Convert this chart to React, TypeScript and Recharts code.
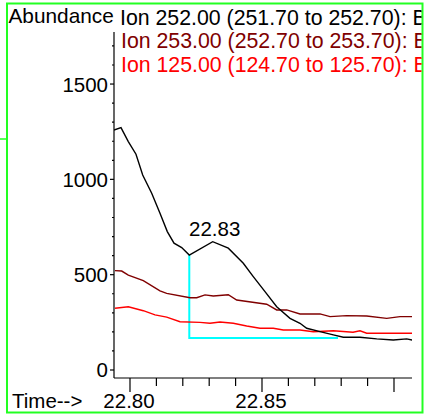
import { LineChart, Line, XAxis, YAxis } from 'recharts';

// Ion 252.00 (black)
const t252 = [
  22.79394, 22.79659, 22.79936, 22.80227, 22.80481, 22.80822, 22.81136, 22.81413, 22.81667,
  22.81958, 22.82246, 22.83133, 22.83723, 22.84292, 22.8467, 22.85114, 22.85557, 22.86061,
  22.86439, 22.86693, 22.87197, 22.87701, 22.8808, 22.88712, 22.89345, 22.89973, 22.90481,
  22.90693,
];
const v252 = [
  1259, 1271, 1198, 1132, 1023, 927, 822, 726, 665, 642, 603, 673, 639, 560, 490, 411, 332, 271,
  245, 219, 201, 184, 172, 172, 163, 157, 163, 157,
];

// Ion 253.00 (dark red)
const t253 = [
  22.79432, 22.79686, 22.79936, 22.80504, 22.81136, 22.8139, 22.82273, 22.82527, 22.82841,
  22.83155, 22.83723, 22.84042, 22.85178, 22.85557, 22.85936, 22.86439, 22.87197, 22.87576,
  22.88208, 22.88966, 22.89723, 22.90227, 22.90693,
];
const v253 = [
  521, 519, 498, 469, 415, 402, 379, 379, 394, 388, 395, 367, 345, 315, 315, 294, 294, 280, 285,
  283, 271, 280, 280,
];

// Ion 125.00 (red)
const t125 = [
  22.79432, 22.79936, 22.80504, 22.80947, 22.8139, 22.81894, 22.82652, 22.8303, 22.83409,
  22.83913, 22.8442, 22.84924, 22.85428, 22.85807, 22.86439, 22.86943, 22.87701, 22.88447,
  22.88712, 22.88966, 22.90693,
];
const v125 = [
  324, 332, 311, 289, 277, 253, 250, 245, 252, 245, 231, 219, 219, 210, 210, 201, 206, 198, 206,
  193, 193,
];

// integration baseline (cyan)
const tBase = [22.82246, 22.82246, 22.87879];
const vBase = [603, 168, 168];

const seriesNames = [
  'Ion 252.00 (251.70 to 252.70): B',
  'Ion 253.00 (252.70 to 253.70): B',
  'Ion 125.00 (124.70 to 125.70): B',
];
const seriesColors = ['#000000', '#800000', '#ff0000'];

const xTicks = [22.8, 22.81, 22.82, 22.83, 22.84, 22.85, 22.86, 22.87, 22.88, 22.89, 22.9];
const xMajor = [22.8, 22.85, 22.9];
const xLabeled = [22.8, 22.85];
const yTicks = [0, 100, 200, 300, 400, 500, 600, 700, 800, 900, 1000, 1100, 1200, 1300, 1400, 1500, 1600, 1700];
const yLabeled = [0, 500, 1000, 1500];

const zip = (ts: number[], vs: number[]) => ts.map((t, i) => ({ t, v: vs[i] }));

const FONT = '"Liberation Sans", Arial, sans-serif';
const FS = 20.5;
const GREEN = '#22ff22';

const peakIndex = 11;

function XTick({ x, y, payload }: any) {
  const val = Math.round(payload.value * 100) / 100;
  const major = xMajor.some((m) => Math.abs(m - val) < 1e-6);
  const labeled = xLabeled.some((m) => Math.abs(m - val) < 1e-6);
  return (
    <g>
      <line x1={x} x2={x} y1={y} y2={y + (major ? 14 : 8)} stroke="#000" strokeWidth={1.2} />
      {labeled && (
        <text x={x - 1} y={y + 30} textAnchor="middle" fontFamily={FONT} fontSize={FS} fill="#000">
          {val.toFixed(2)}
        </text>
      )}
    </g>
  );
}

function YTick({ x, y, payload }: any) {
  const labeled = yLabeled.includes(payload.value);
  return (
    <g>
      <line x1={x - (labeled ? 4 : 2)} x2={x} y1={y} y2={y} stroke="#000" strokeWidth={1.2} />
      {labeled && (
        <text x={x - 6} y={y + 7.5} textAnchor="end" fontFamily={FONT} fontSize={FS} fill="#000">
          {payload.value}
        </text>
      )}
    </g>
  );
}

function renderPeakLabel(props: any) {
  if (props.index !== peakIndex) return <g key={`pl-${props.index}`} />;
  return (
    <text
      key="peak"
      x={props.x + 2}
      y={props.y - 6}
      textAnchor="middle"
      fontFamily={FONT}
      fontSize={FS}
      fill="#000"
    >
      {t252[peakIndex].toFixed(2)}
    </text>
  );
}

export default function App() {
  return (
    <div style={{ position: 'absolute', left: 0, top: 0, width: 425, height: 417, background: '#fff' }}>
      <LineChart width={425} height={417} margin={{ top: 32, right: 13, bottom: 0, left: 0 }}>
        <XAxis
          type="number"
          dataKey="t"
          domain={[22.79394, 22.90682]}
          allowDataOverflow
          ticks={xTicks}
          interval={0}
          tick={<XTick />}
          tickLine={false}
          tickSize={0}
          tickMargin={0}
          height={39}
          axisLine={{ stroke: '#000', strokeWidth: 1.2 }}
        />
        <YAxis
          type="number"
          dataKey="v"
          domain={[-42, 1773]}
          allowDataOverflow
          ticks={yTicks}
          interval={0}
          tick={<YTick />}
          tickLine={false}
          tickSize={0}
          tickMargin={0}
          width={114}
          axisLine={{ stroke: '#000', strokeWidth: 1.2 }}
        />
        <Line
          data={zip(tBase, vBase)}
          dataKey="v"
          type="linear"
          stroke="#00ffff"
          strokeWidth={2}
          dot={false}
          activeDot={false}
          isAnimationActive={false}
        />
        <Line
          data={zip(t125, v125)}
          dataKey="v"
          type="linear"
          stroke={seriesColors[2]}
          strokeWidth={1.4}
          dot={false}
          activeDot={false}
          isAnimationActive={false}
        />
        <Line
          data={zip(t253, v253)}
          dataKey="v"
          type="linear"
          stroke={seriesColors[1]}
          strokeWidth={1.4}
          dot={false}
          activeDot={false}
          isAnimationActive={false}
        />
        <Line
          data={zip(t252, v252)}
          dataKey="v"
          type="linear"
          stroke={seriesColors[0]}
          strokeWidth={1.4}
          dot={false}
          activeDot={false}
          label={renderPeakLabel}
          isAnimationActive={false}
        />
      </LineChart>
      <svg
        width={425}
        height={417}
        style={{ position: 'absolute', left: 0, top: 0, pointerEvents: 'none' }}
      >
        <defs>
          <clipPath id="legendClip">
            <rect x={0} y={0} width={421.5} height={417} />
          </clipPath>
        </defs>
        <rect x={7} y={3.5} width={415.5} height={409} fill="none" stroke={GREEN} strokeWidth={2} />
        <line x1={0} x2={7} y1={139} y2={139} stroke={GREEN} strokeWidth={1.5} />
        <text x={8.5} y={22.7} fontFamily={FONT} fontSize={20.8} fill="#000">
          Abundance
        </text>
        <g clipPath="url(#legendClip)">
          {seriesNames.map((name, i) => (
            <text
              key={name}
              x={120 + (i > 0 ? 1 : 0)}
              y={25 + i * 23.3}
              fontFamily={FONT}
              fontSize={21.3}
              fill={seriesColors[i]}
            >
              {name}
            </text>
          ))}
        </g>
        <text x={12} y={407.5} fontFamily={FONT} fontSize={FS} fill="#000">
          Time--&gt;
        </text>
      </svg>
    </div>
  );
}
